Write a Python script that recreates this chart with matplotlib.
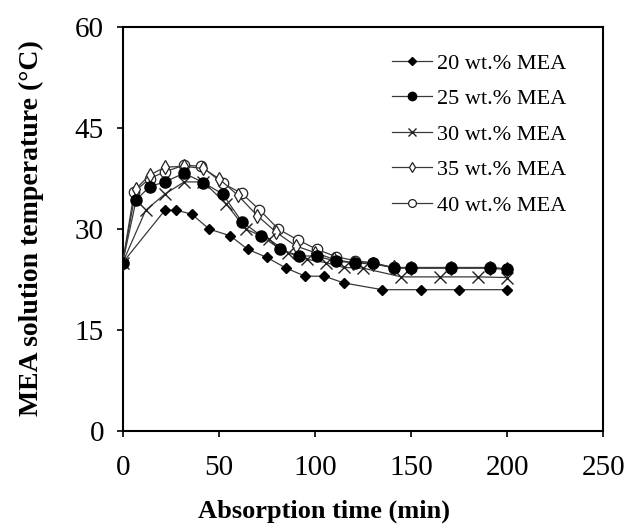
import matplotlib
matplotlib.use("Agg")
import matplotlib.pyplot as plt

# Absorption time (min) and MEA solution temperature (deg C) per concentration
time_20 = [0, 22, 28, 36, 45, 56, 65, 75, 85, 95, 105, 115, 135, 155, 175, 200]
temp_20 = [25, 32.8, 32.8, 32.2, 30, 29, 27, 25.8, 24.2, 23, 23, 22, 21, 21, 21, 21]

time_25 = [0, 7, 14, 22, 32, 42, 52, 62, 72, 82, 92, 101, 111, 121, 130, 141, 150, 171, 191, 200]
temp_25 = [25, 34.3, 36.3, 37, 38.3, 36.9, 35.2, 31.1, 29, 27, 26, 26, 25.2, 25, 25,
           24.2, 24.2, 24.2, 24.2, 24]

time_30 = [0, 12, 22, 32, 42, 54, 64, 76, 86, 96, 106, 115, 125, 145, 165, 185, 200]
temp_30 = [25, 32.8, 35.2, 37, 37, 33.7, 30, 28.5, 26.5, 25.5, 25, 24.3, 24.2,
           22.9, 22.9, 22.9, 22.8]

time_35 = [0, 7, 14, 22, 32, 42, 50, 60, 70, 80, 90, 100, 110, 120, 130, 141, 150, 171, 191, 200]
temp_35 = [25, 36, 38, 39.2, 39.3, 39, 37.5, 35, 32, 29.5, 27.5, 26.5, 25.5, 25, 24.8,
           24.3, 24.2, 24.2, 24.2, 24.1]

time_40 = [0, 6, 14, 22, 32, 41, 52, 62, 71, 81, 91, 101, 111, 121, 130, 141, 150, 171, 191, 200]
temp_40 = [25, 35.5, 37.5, 38.5, 39.5, 39.3, 36.8, 35.3, 32.9, 30, 28.4, 27, 25.9, 25.3, 25,
           24.3, 24.3, 24.3, 24.3, 24.1]

labels = ["20 wt.% MEA", "25 wt.% MEA", "30 wt.% MEA", "35 wt.% MEA", "40 wt.% MEA"]
x_ticks = [0, 50, 100, 150, 200, 250]
y_ticks = [0, 15, 30, 45, 60]

plt.rcParams["font.family"] = ["Liberation Serif", "DejaVu Serif"]

fig = plt.figure(figsize=(6.29, 5.29), dpi=100)
ax = fig.add_axes([0.195, 0.185, 0.764, 0.764])

line_col = "#3a3a3a"
styles = [
    dict(marker="D", ms=5, mfc="black", mec="black"),
    dict(marker="o", ms=8, mfc="black", mec="black"),
    dict(marker="x", ms=8, mfc="none", mec="#222222", mew=1.0),
    dict(marker="d", ms=7, mfc="white", mec="#222222", mew=0.9),
    dict(marker="o", ms=7.5, mfc="white", mec="#222222", mew=0.9),
]
# filled series sit on top of the open ones, as in the original
zorders = [6, 5, 4, 3, 2]
series = [(time_20, temp_20), (time_25, temp_25), (time_30, temp_30),
          (time_35, temp_35), (time_40, temp_40)]

for (t, y), st, lab, z in zip(series, styles, labels, zorders):
    ax.plot(t, y, color=line_col, lw=0.9, label=lab, zorder=z, **st)

ax.set_xlim(0, 250)
ax.set_ylim(0, 60)
ax.set_xticks(x_ticks)
ax.set_yticks(y_ticks)
ax.tick_params(direction="out", length=4.5, width=1.2, labelsize=21, top=False, right=False)
ax.tick_params(axis="x", pad=13)
ax.tick_params(axis="y", pad=9)
for sp in ax.spines.values():
    sp.set_linewidth(1.5)

ax.set_xlabel("Absorption time (min)", fontsize=19, fontweight="bold", va="center")
ax.xaxis.set_label_coords(0.42, -0.198)
ax.set_ylabel("MEA solution temperature (°C)", fontsize=20, fontweight="bold", va="center")
ax.yaxis.set_label_coords(-0.19, 0.502)

ax.legend(loc="upper left", bbox_to_anchor=(0.56, 0.935), frameon=False, fontsize=16,
          handlelength=1.8, handletextpad=0.25, labelspacing=0.67, borderpad=0,
          borderaxespad=0, markerscale=0.75)

fig.savefig("out.png", dpi=100)
